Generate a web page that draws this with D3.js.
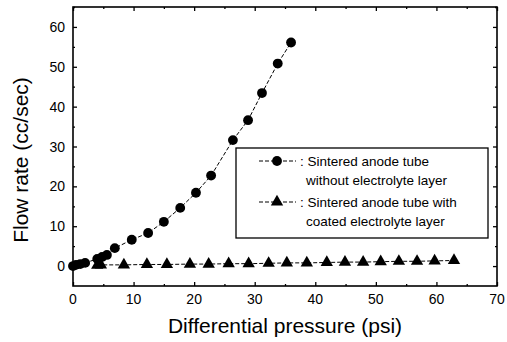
<!DOCTYPE html>
<html>
<head>
<meta charset="utf-8">
<script src="https://cdn.jsdelivr.net/npm/d3@7"></script>
<style>
  body { margin: 0; background: #fff; }
  svg { display: block; }
</style>
</head>
<body>
<script>
// data
var openX = [0, 0.5, 1.2, 2.0, 4.0, 4.8, 5.6, 6.9, 9.7, 12.4, 15.0, 17.7, 20.3, 22.8, 26.4, 28.9, 31.2, 33.8, 36.0];
var openY = [0, 0.3, 0.5, 0.8, 1.8, 2.3, 2.8, 4.5, 6.6, 8.3, 11.1, 14.6, 18.4, 22.7, 31.6, 36.6, 43.4, 50.8, 56.1];

var coatX = [4.0, 4.6, 8.4, 12.2, 15.5, 19.3, 22.4, 25.7, 29.0, 32.3, 35.3, 38.6, 41.9, 44.9, 47.9, 50.8, 53.8, 56.8, 59.7, 62.9];
var coatY = [0.2, 0.3, 0.3, 0.4, 0.4, 0.5, 0.5, 0.6, 0.6, 0.7, 0.8, 0.8, 0.9, 1.0, 1.0, 1.1, 1.2, 1.2, 1.3, 1.4];

var xTicks = [0, 10, 20, 30, 40, 50, 60, 70];
var yTicks = [0, 10, 20, 30, 40, 50, 60];

var legendLabels = [
  ["Sintered anode tube", "without electrolyte layer"],
  ["Sintered anode tube with", "coated electrolyte layer"]
];

var width = 507, height = 342;
// plot frame (window.top is read-only, so keep these in an object)
var frame = { left: 73, right: 497, top: 7, bottom: 286 };
var font = "'Liberation Sans', Arial, sans-serif";

var x = d3.scaleLinear().domain([0, 70]).range([frame.left, frame.right]);
var y = d3.scaleLinear().domain([-5, 65]).range([frame.bottom, frame.top]);

var svg = d3.select("body").append("svg")
  .attr("width", width)
  .attr("height", height);

// minor ticks halfway between major ones
function minor(ticks) {
  var out = [];
  for (var i = 0; i < ticks.length - 1; i++) out.push((ticks[i] + ticks[i + 1]) / 2);
  return out;
}

var xMinor = minor(xTicks);
var yMinor = minor(yTicks).concat([65]);

function drawTicks(axis, ticks, size, tr) {
  var g = svg.append("g").attr("transform", tr)
    .call(axis.tickValues(ticks).tickSize(size).tickSizeOuter(0).tickFormat(""));
  g.select(".domain").remove();
  g.selectAll("line").attr("stroke", "#000").attr("stroke-width", 1.3);
  return g;
}

// ticks point inward on all four sides
drawTicks(d3.axisTop(x), xTicks, 4, "translate(0," + frame.bottom + ")");
drawTicks(d3.axisTop(x), xMinor, 2, "translate(0," + frame.bottom + ")");
drawTicks(d3.axisBottom(x), xTicks, 4, "translate(0," + frame.top + ")");
drawTicks(d3.axisBottom(x), xMinor, 2, "translate(0," + frame.top + ")");
drawTicks(d3.axisRight(y), yTicks, 4, "translate(" + frame.left + ",0)");
drawTicks(d3.axisRight(y), yMinor, 2, "translate(" + frame.left + ",0)");
drawTicks(d3.axisLeft(y), yTicks, 4, "translate(" + frame.right + ",0)");
drawTicks(d3.axisLeft(y), yMinor, 2, "translate(" + frame.right + ",0)");

// tick labels
svg.append("g").selectAll("text")
  .data(xTicks).enter().append("text")
  .attr("x", function (d) { return x(d); })
  .attr("y", frame.bottom + 18)
  .attr("text-anchor", "middle")
  .attr("font-family", font).attr("font-size", 14)
  .text(function (d) { return d; });

svg.append("g").selectAll("text")
  .data(yTicks).enter().append("text")
  .attr("x", frame.left - 8)
  .attr("y", function (d) { return y(d) + 5; })
  .attr("text-anchor", "end")
  .attr("font-family", font).attr("font-size", 14)
  .text(function (d) { return d; });

// frame
svg.append("rect")
  .attr("x", frame.left).attr("y", frame.top)
  .attr("width", frame.right - frame.left).attr("height", frame.bottom - frame.top)
  .attr("fill", "none").attr("stroke", "#000").attr("stroke-width", 1.6);

// axis titles
svg.append("text")
  .attr("x", 285)
  .attr("y", 333)
  .attr("text-anchor", "middle")
  .attr("font-family", font).attr("font-size", 21)
  .text("Differential pressure (psi)");

svg.append("text")
  .attr("transform", "translate(28,160) rotate(-90)")
  .attr("text-anchor", "middle")
  .attr("font-family", font).attr("font-size", 21)
  .text("Flow rate (cc/sec)");

// series
var line = d3.line()
  .x(function (d) { return x(d[0]); })
  .y(function (d) { return y(d[1]); });

var openData = d3.zip(openX, openY);
var coatData = d3.zip(coatX, coatY);

svg.append("path").datum(openData)
  .attr("d", line).attr("fill", "none")
  .attr("stroke", "#000").attr("stroke-width", 1)
  .attr("stroke-dasharray", "4,2");

svg.append("path").datum(coatData)
  .attr("d", line).attr("fill", "none")
  .attr("stroke", "#000").attr("stroke-width", 1)
  .attr("stroke-dasharray", "4,2");

var circle = d3.symbol().type(d3.symbolCircle).size(76);
var triangle = d3.symbol().type(d3.symbolTriangle).size(66);

svg.append("g").selectAll("path")
  .data(openData).enter().append("path")
  .attr("d", circle)
  .attr("transform", function (d) { return "translate(" + x(d[0]) + "," + y(d[1]) + ")"; })
  .attr("fill", "#000");

svg.append("g").selectAll("path")
  .data(coatData).enter().append("path")
  .attr("d", triangle)
  .attr("transform", function (d) { return "translate(" + x(d[0]) + "," + y(d[1]) + ")"; })
  .attr("fill", "#000");

// legend
var legend = svg.append("g");
legend.append("rect")
  .attr("x", 236).attr("y", 148)
  .attr("width", 252).attr("height", 90)
  .attr("fill", "#fff").attr("stroke", "#000").attr("stroke-width", 1.3);

var legendY = [161, 202];
var symbols = [circle, triangle];

legendLabels.forEach(function (lines, i) {
  var ly = legendY[i];
  legend.append("line")
    .attr("x1", 259).attr("x2", 296)
    .attr("y1", ly).attr("y2", ly)
    .attr("stroke", "#000").attr("stroke-width", 1)
    .attr("stroke-dasharray", "4,2");
  legend.append("path")
    .attr("d", symbols[i])
    .attr("transform", "translate(277," + ly + ")")
    .attr("fill", "#000");
  legend.append("text")
    .attr("x", 300).attr("y", ly + 5)
    .attr("font-family", font).attr("font-size", 13.5)
    .text(": " + lines[0]);
  legend.append("text")
    .attr("x", 306).attr("y", ly + 24)
    .attr("font-family", font).attr("font-size", 13.5)
    .text(lines[1]);
});
</script>
</body>
</html>
